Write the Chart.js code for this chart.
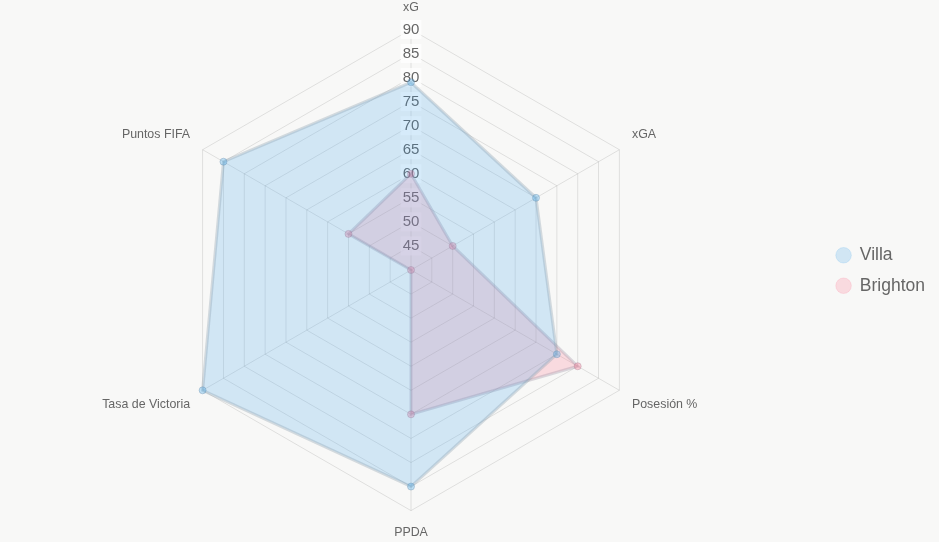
<!DOCTYPE html>
<html>
<head>
<meta charset="utf-8">
<script src="https://cdn.jsdelivr.net/npm/chart.js@4"></script>
<style>
  html, body { margin: 0; padding: 0; background: #f8f8f7; }
  #wrap { width: 939px; height: 542px; }
</style>
</head>
<body>
<div id="wrap"><canvas id="radar"></canvas></div>
<script>
var metrics = ["xG", "xGA", "Posesión %", "PPDA", "Tasa de Victoria", "Puntos FIFA"];
var villa = [79, 70, 75, 85, 90, 85];
var brighton = [60, 50, 80, 70, 40, 55];

var legendFill = ["rgba(54, 162, 235, 0.2)", "rgba(255, 99, 132, 0.2)"];
var legendStroke = ["rgba(54, 162, 235, 0.15)", "rgba(255, 99, 132, 0.15)"];

const ctx = document.getElementById("radar").getContext("2d");
var chartId = new Chart(ctx, {
    type: 'radar',
    data: {
        labels: metrics,
        datasets: [
            {
                label: "Villa",
                data: villa,
                backgroundColor: "rgba(54, 162, 235, 0.2)",
                borderColor: "rgba(140, 160, 175, 0.35)",
                borderWidth: 3,
                pointBackgroundColor: "rgba(54, 162, 235, 0.3)",
                pointBorderColor: "rgba(110, 145, 175, 0.4)",
                pointBorderWidth: 1,
                pointRadius: 3.5
            },
            {
                label: "Brighton",
                data: brighton,
                backgroundColor: "rgba(255, 99, 132, 0.2)",
                borderColor: "rgba(160, 150, 165, 0.35)",
                borderWidth: 3,
                pointBackgroundColor: "rgba(255, 99, 132, 0.3)",
                pointBorderColor: "rgba(170, 130, 150, 0.4)",
                pointBorderWidth: 1,
                pointRadius: 3.5
            }
        ]
    },
    options: {
        responsive: true,
        maintainAspectRatio: false,
        animation: false,
        layout: { padding: { right: 4, top: 0, bottom: 1 } },
        scales: {
            r: {
                min: 40,
                max: 90,
                ticks: {
                    stepSize: 5,
                    color: "#666",
                    font: { size: 15, family: "Liberation Sans, Arial, sans-serif" },
                    backdropColor: "rgba(255, 255, 255, 0.75)"
                },
                grid: { color: "rgba(0, 0, 0, 0.1)" },
                angleLines: { color: "rgba(0, 0, 0, 0.1)" },
                pointLabels: {
                    color: "#666",
                    font: { size: 12.4, family: "Liberation Sans, Arial, sans-serif" }
                }
            }
        },
        plugins: {
            legend: {
                position: 'right',
                labels: {
                    usePointStyle: true,
                    boxWidth: 15,
                    boxHeight: 11,
                    padding: 13,
                    color: "#666",
                    font: { size: 17.5, family: "Liberation Sans, Arial, sans-serif" },
                    generateLabels: function(chart) {
                        var items = Chart.defaults.plugins.legend.labels.generateLabels(chart);
                        for (let i = 0; i < items.length; i++) {
                            items[i].fillStyle = legendFill[i];
                            items[i].strokeStyle = legendStroke[i];
                            items[i].lineWidth = 1;
                            items[i].fontColor = "#666";
                        }
                        return items;
                    }
                }
            },
            tooltip: { enabled: false }
        }
    }
});
</script>
</body>
</html>
